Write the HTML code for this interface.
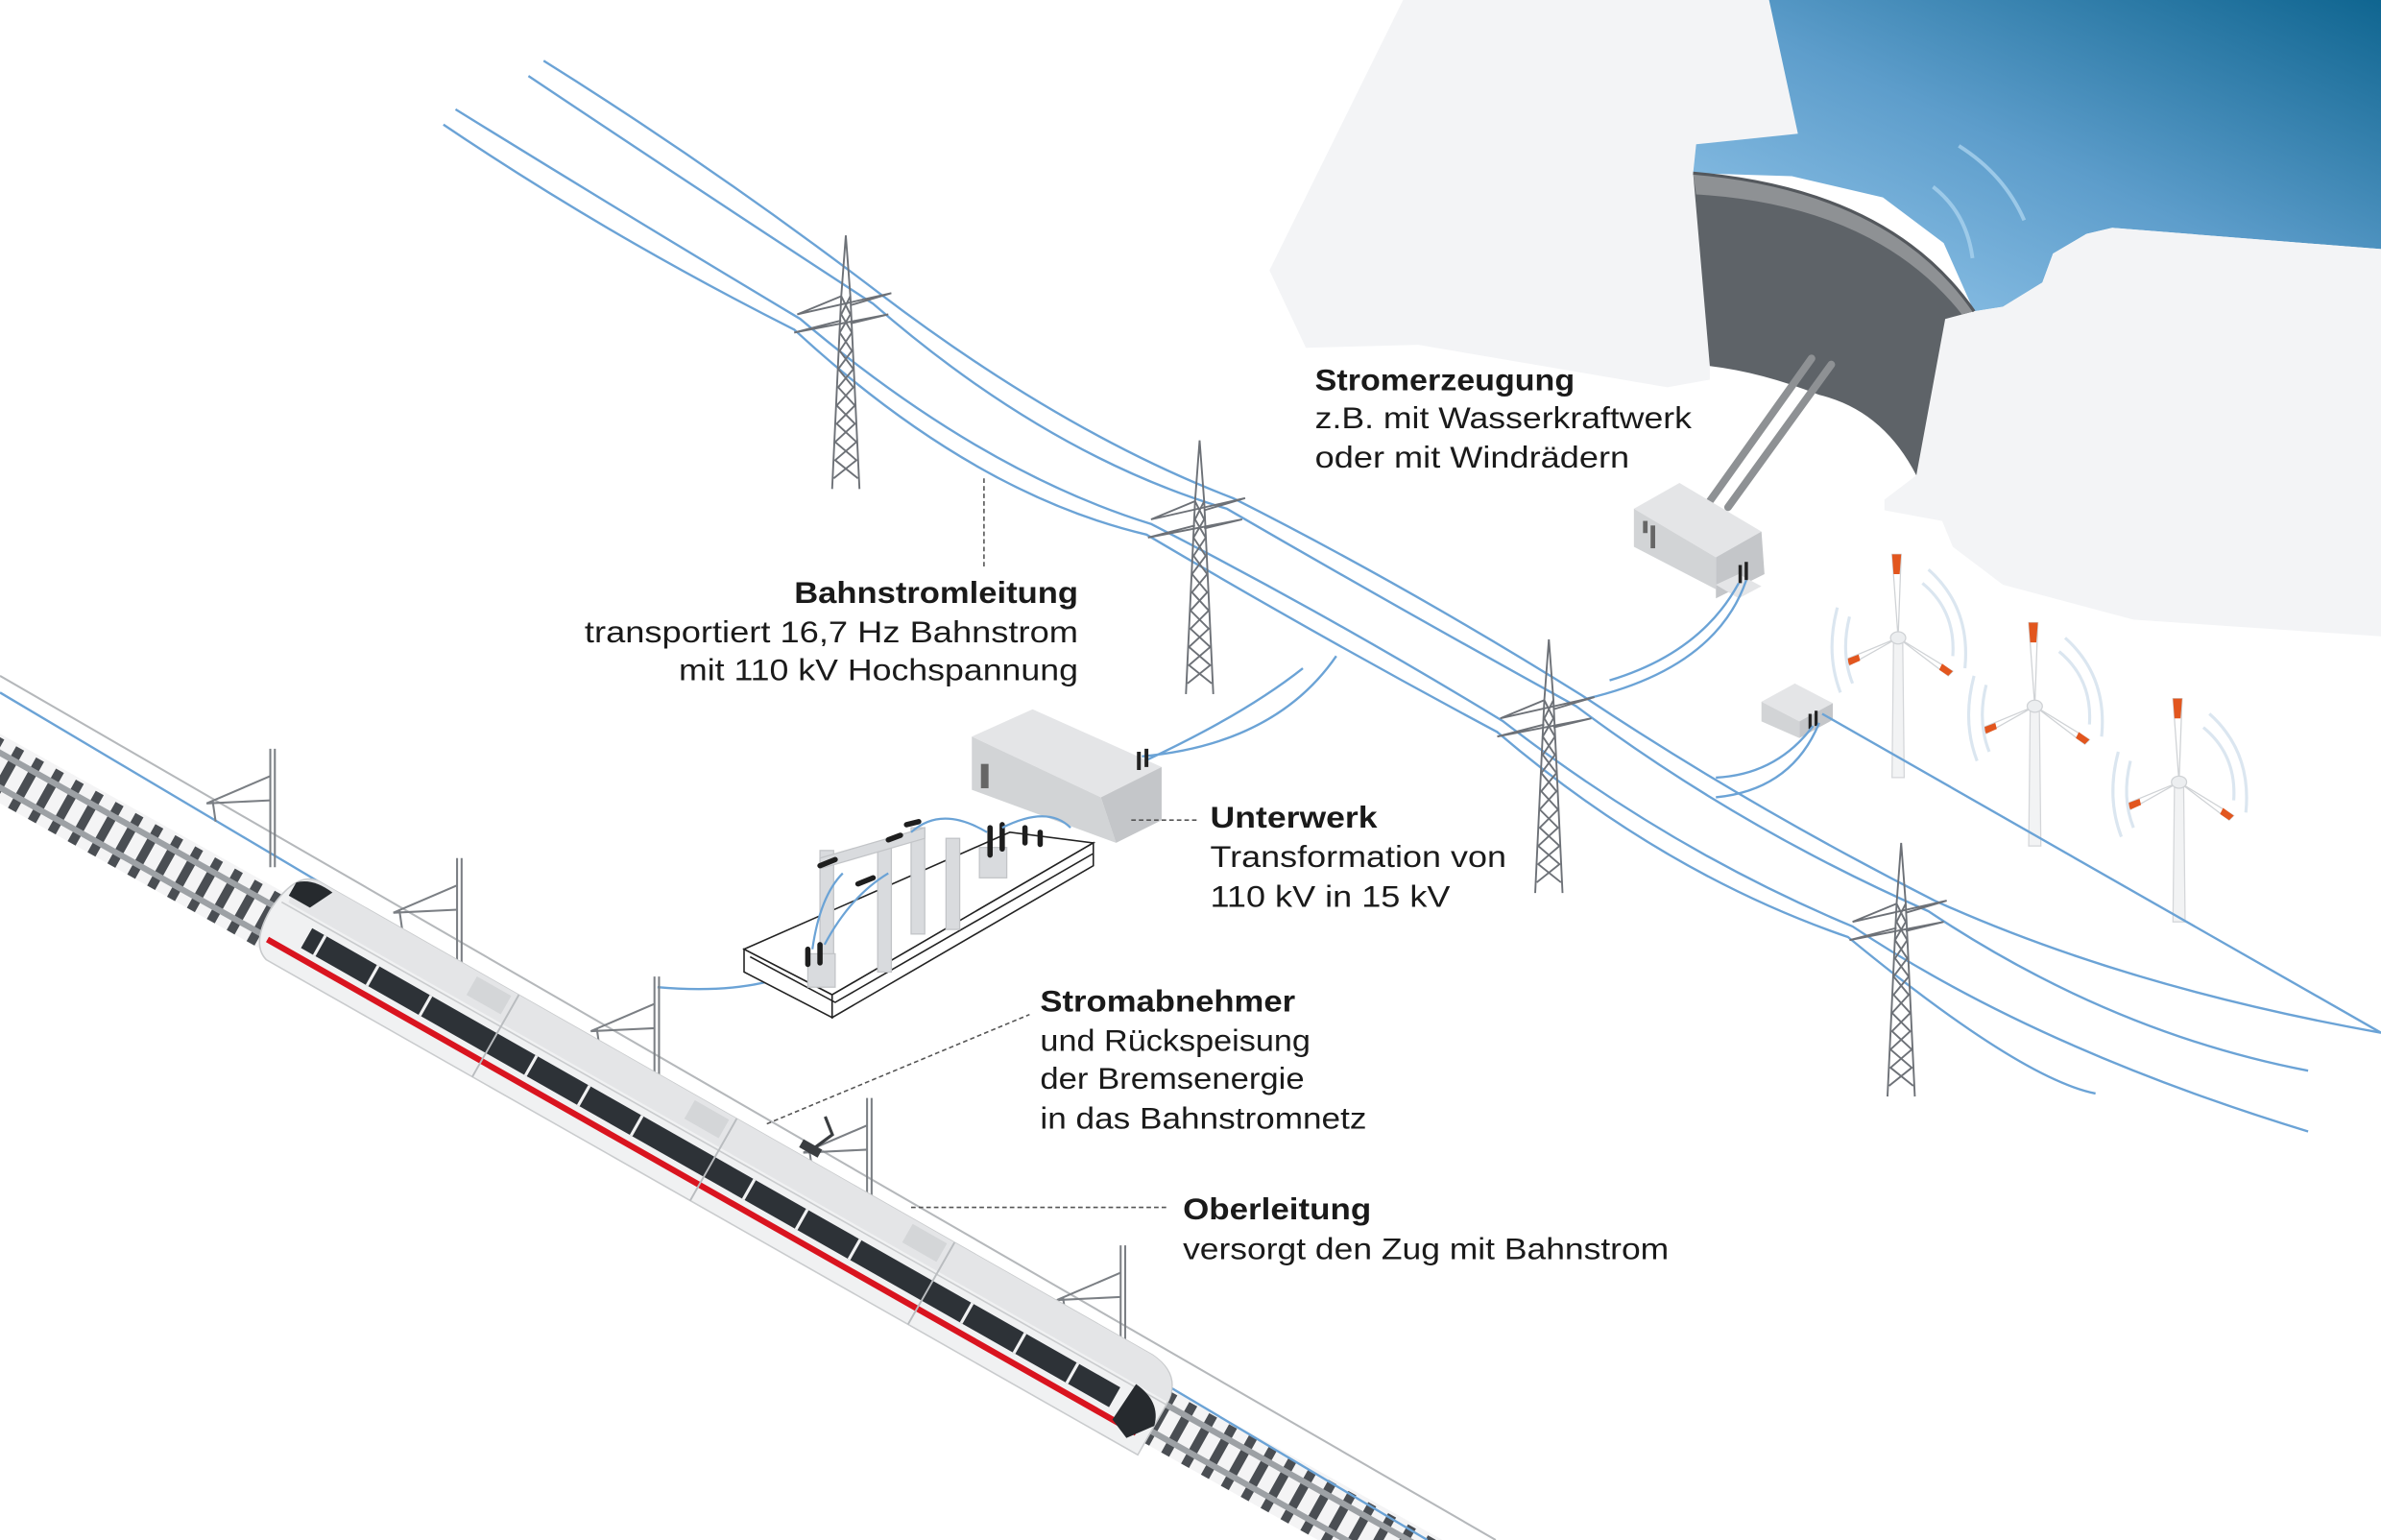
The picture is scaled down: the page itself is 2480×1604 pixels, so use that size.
<!DOCTYPE html>
<html><head><meta charset="utf-8"><style>
html,body{margin:0;padding:0;background:#fff;}
svg{display:block;}
text{font-family:"Liberation Sans",sans-serif;font-size:20px;fill:#1a1a1a;}
.b{font-weight:bold;}
</style></head><body>
<svg width="2480" height="1604" viewBox="0 0 1568 1014" preserveAspectRatio="none" xmlns="http://www.w3.org/2000/svg">
<defs>
<linearGradient id="wg" x1="0" y1="1" x2="1" y2="0">
<stop offset="0" stop-color="#9acbee"/><stop offset="0.5" stop-color="#5d9dcb"/><stop offset="1" stop-color="#0f6590"/>
</linearGradient>
<g id="pyl" fill="none" stroke="#6d7177" stroke-width="1.2">
<path d="M0,0 L-3,40 L-9,167 M0,0 L3,40 L9,167"/>
<path d="M-3,40 L3,52 L-4,64 L4,76 L-5,88 L5,100 L-6,112 L6,124 L-7,136 L7,148 L-8,160 M3,40 L-3,52 L4,64 L-4,76 L5,88 L-5,100 L6,112 L-6,124 L7,136 L-7,148 L8,160"/>
<path d="M-32,52 L30,38 M-32,52 L-3,40 M30,38 L3,46 M-34,64 L28,52 M-34,64 L-3,56 M28,52 L3,58"/>
</g>
<g id="mast" fill="none" stroke="#7b7f84" stroke-width="1.3">
<path d="M0,0 L0,78 M3,0 L3,78"/>
<path d="M0,18 L-42,36 M0,34 L-42,36 M-38,34 L-36,48"/>
</g>
<g id="turb">
<path d="M-3,0 L3,0 L4,92 L-4,92 Z" fill="#f2f3f4" stroke="#d4d6d9" stroke-width="0.8"/>
<path d="M0,0 L-4,-55 L2,-55 Z" fill="#fff" stroke="#cfd2d5" stroke-width="0.8"/>
<path d="M-4,-55 L2,-55 L1,-42 L-3,-42 Z" fill="#e2561e"/>
<path d="M0,0 L-34,14 L-32,18 Z" fill="#fff" stroke="#cfd2d5" stroke-width="0.8"/>
<path d="M-34,14 L-32,18 L-25,15 L-26,11 Z" fill="#e2561e"/>
<path d="M0,0 L36,22 L33,25 Z" fill="#fff" stroke="#cfd2d5" stroke-width="0.8"/>
<path d="M36,22 L33,25 L27,21 L29,17 Z" fill="#e2561e"/>
<ellipse cx="0" cy="0" rx="5" ry="4" fill="#eceef0" stroke="#cfd2d5" stroke-width="0.8"/>
<path d="M-40,-20 Q-48,10 -38,36 M-32,-14 Q-38,10 -30,30" fill="none" stroke="#dbe6f0" stroke-width="2"/>
<path d="M20,-45 Q48,-20 44,20 M16,-36 Q38,-18 36,12" fill="none" stroke="#dbe6f0" stroke-width="2"/>
</g>
</defs>

<polygon points="924,0 1165,0 1184,88 1117,95 1115,114 1126,241 1126,250 1098,255 934,227 860,229 836,178" fill="#f3f4f6"/>
<polygon points="1165,0 1568,0 1568,164 1391,150 1374,154 1352,167 1345,186 1319,202 1300,205 1280,160 1240,130 1180,116 1115,114 1117,95 1184,88" fill="url(#wg)"/>
<path d="M1290,96 Q1320,115 1333,145 M1273,123 Q1295,140 1299,170" fill="none" stroke="#a9d2ee" stroke-width="2.5" opacity="0.8"/>
<polygon points="1300,205 1319,202 1345,186 1352,167 1374,154 1391,150 1568,164 1568,419 1405,408 1319,385 1286,360 1279,343 1241,336 1241,329 1262,313 1281,210" fill="#f3f4f6"/>
<path d="M1115,114 Q1245,125 1300,205 L1281,210 L1262,313 Q1240,270 1198,260 Q1160,245 1126,241 Z" fill="#5e6368"/>
<path d="M1115,114 Q1245,125 1300,205 L1292,207 Q1235,135 1117,128 Z" fill="#8e9194"/>
<path d="M1115,114 Q1245,125 1300,205" fill="none" stroke="#54585d" stroke-width="2"/>
<path d="M1193,236 L1126,330 M1206,240 L1138,334" stroke="#8e9194" stroke-width="5" stroke-linecap="round"/>
<polygon points="1076,335 1106,318 1160,350 1130,367" fill="#e4e5e7"/>
<polygon points="1076,335 1130,367 1130,388 1076,360" fill="#d2d4d6"/>
<polygon points="1130,367 1160,350 1162,378 1130,394" fill="#c4c6c9"/>
<polygon points="1130,385 1145,378 1160,386 1145,394" fill="#e4e5e7"/>
<rect x="1082" y="343" width="3" height="8" fill="#666"/><rect x="1087" y="346" width="3" height="15" fill="#666"/>
<path d="M1146,372 v12 M1150,370 v12" stroke="#222" stroke-width="2.2"/>
<polygon points="1160,462 1182,450 1207,463 1185,475" fill="#e4e5e7"/>
<polygon points="1160,462 1185,475 1185,486 1160,475" fill="#d2d4d6"/>
<polygon points="1185,475 1207,463 1207,474 1185,486" fill="#c4c6c9"/>
<path d="M1192,470 v10 M1196,468 v10" stroke="#222" stroke-width="2"/>

<use href="#turb" x="1250" y="420"/>
<use href="#turb" x="1340" y="465"/>
<use href="#turb" x="1435" y="515"/>

<g fill="none" stroke="#6ba3d6" stroke-width="1.5">
<path d="M358,40 Q470,110 579,193 Q700,285 812,328 Q925,385 1042,458 Q1150,530 1274,593 Q1400,650 1568,680"/>
<path d="M348,50 Q460,125 575,200 Q690,300 808,335 Q920,400 1038,465 Q1145,545 1270,600 Q1390,680 1520,705"/>
<path d="M300,72 Q410,140 527,210 Q645,310 758,345 Q875,405 990,475 Q1100,560 1220,610 Q1340,690 1520,745"/>
<path d="M292,82 Q400,155 523,217 Q640,325 755,352 Q870,420 986,482 Q1095,575 1217,617 Q1330,710 1380,720"/>
<path d="M1145,384 Q1120,430 1060,448"/>
<path d="M1150,382 Q1130,440 1045,460"/>
<path d="M1194,478 Q1170,510 1130,512"/>
<path d="M1198,476 Q1180,520 1130,525"/>
<path d="M752,498 Q840,490 880,432"/>
<path d="M756,500 Q820,470 858,440"/>
<path d="M433,650 Q490,655 525,640"/>
<path d="M1200,470 L1568,680"/>
</g>
<use href="#pyl" x="557" y="155"/>
<use href="#pyl" x="790" y="290"/>
<use href="#pyl" x="1020" y="421"/>
<use href="#pyl" x="1252" y="555"/>

<g stroke="#222" stroke-width="1" fill="#fff">
<polygon points="490,625 665,548 720,555 548,655"/>
<polygon points="490,625 548,655 548,670 490,640" />
<polygon points="548,655 720,555 720,570 548,670"/>
<path d="M494,630 L550,660 L720,562" fill="none"/>
</g>
<polygon points="640,485 680,467 765,505 725,525" fill="#e4e5e7"/>
<polygon points="640,485 725,525 735,555 640,520" fill="#d2d4d6"/>
<polygon points="725,525 765,505 765,540 735,555" fill="#c4c6c9"/>
<rect x="646" y="503" width="5" height="16" fill="#666"/>
<path d="M750,495 v12 M755,493 v12" stroke="#222" stroke-width="2.5"/>
<g fill="#d9dbde" stroke="#c2c4c7" stroke-width="0.8">
<rect x="540" y="560" width="9" height="80"/><rect x="578" y="558" width="9" height="82"/>
<rect x="600" y="545" width="9" height="70"/><rect x="623" y="552" width="9" height="60"/>
<rect x="532" y="628" width="18" height="22"/><rect x="645" y="558" width="18" height="20"/>
<path d="M540,565 L609,545 L609,552 L540,572 Z"/>
</g>
<g stroke="#1e1e1e" stroke-width="3.5" stroke-linecap="round">
<path d="M540,570 l10,-4 M565,582 l10,-4 M597,543 l8,-2 M585,553 l8,-3 M532,625 v10 M540,622 v12 M652,545 v18 M660,543 v16 M675,545 v10 M685,548 v8"/>
</g>
<path d="M535,625 Q540,590 555,575 M543,622 Q560,590 585,575 M600,548 Q620,530 650,548 M660,545 Q690,530 705,545" fill="none" stroke="#6ba3d6" stroke-width="1.4"/>

<g transform="translate(0,490) rotate(29.2)">
<rect x="-20" y="-6" width="1120" height="40" fill="#f4f4f5"/>
<line x1="-20" y1="15" x2="1100" y2="15" stroke="#4a4e53" stroke-width="38" stroke-dasharray="6 9"/>
<line x1="-20" y1="5" x2="1100" y2="5" stroke="#9da1a5" stroke-width="4"/>
<line x1="-20" y1="25" x2="1100" y2="25" stroke="#9da1a5" stroke-width="4"/>
</g>
<line x1="0" y1="445" x2="985" y2="1014" stroke="#b5b8bb" stroke-width="1.3"/>
<line x1="0" y1="456" x2="940" y2="1014" stroke="#6ba3d6" stroke-width="1.5"/>
<use href="#mast" x="178" y="493"/>
<use href="#mast" x="301" y="565"/>
<use href="#mast" x="431" y="643"/>
<use href="#mast" x="571" y="723"/>
<use href="#mast" x="738" y="820"/>

<g transform="translate(182,592) rotate(29.6)">
<path d="M18,-24 L650,-24 Q674,-22 674,0 L674,38 L14,38 Q0,34 0,8 Q2,-22 18,-24 Z" fill="#f0f1f2" stroke="#c9cbcd" stroke-width="1"/>
<path d="M18,-24 L650,-24 Q672,-22 674,-2 L8,-2 Q4,-20 18,-24 Z" fill="#e4e5e7"/>
<line x1="4" y1="0" x2="674" y2="0" stroke="#c9cbcd" stroke-width="1"/>
<rect x="30" y="5" width="612" height="15" fill="#2d3237"/>
<path d="M40,5 V20 M80,5 V20 M120,5 V20 M200,5 V20 M240,5 V20 M280,5 V20 M365,5 V20 M405,5 V20 M445,5 V20 M530,5 V20 M570,5 V20 M610,5 V20" stroke="#f0f1f2" stroke-width="2"/>
<path d="M8,26 L666,26" stroke="#d9141f" stroke-width="4"/>
<g stroke="#b9bcbf" stroke-width="1.2"><path d="M170,-24 V38 M335,-24 V38 M500,-24 V38"/></g>
<g fill="#d4d6d8"><rect x="140" y="-21" width="26" height="14"/><rect x="305" y="-21" width="26" height="14"/><rect x="470" y="-21" width="26" height="14"/></g>
<path d="M6,-16 Q14,-24 30,-22 L22,-6 L6,-6 Z" fill="#262a2e"/>
<path d="M650,-2 Q670,0 674,16 L662,32 L648,26 Z" fill="#262a2e"/>
<rect x="380" y="-34" width="14" height="6" fill="#3a3d40"/>
<path d="M387,-28 L395,-46 L385,-54" fill="none" stroke="#3a3d40" stroke-width="2"/>
</g>

<g stroke="#555" stroke-width="1" stroke-dasharray="3 2" fill="none">
<path d="M648,315 V375"/>
<path d="M745,540 H790"/>
<path d="M505,740 L678,668"/>
<path d="M600,795 H768"/>
</g>

<text class="b" x="866" y="257" textLength="171" lengthAdjust="spacingAndGlyphs">Stromerzeugung</text>
<text x="866" y="282" textLength="248" lengthAdjust="spacingAndGlyphs">z.B. mit Wasserkraftwerk</text>
<text x="866" y="308" textLength="207" lengthAdjust="spacingAndGlyphs">oder mit Windrädern</text>
<text class="b" x="523" y="397" textLength="187" lengthAdjust="spacingAndGlyphs">Bahnstromleitung</text>
<text x="385" y="423" textLength="325" lengthAdjust="spacingAndGlyphs">transportiert 16,7 Hz Bahnstrom</text>
<text x="447" y="448" textLength="263" lengthAdjust="spacingAndGlyphs">mit 110 kV Hochspannung</text>
<text class="b" x="797" y="545" textLength="110" lengthAdjust="spacingAndGlyphs">Unterwerk</text>
<text x="797" y="571" textLength="195" lengthAdjust="spacingAndGlyphs">Transformation von</text>
<text x="797" y="597" textLength="158" lengthAdjust="spacingAndGlyphs">110 kV in 15 kV</text>
<text class="b" x="685" y="666" textLength="168" lengthAdjust="spacingAndGlyphs">Stromabnehmer</text>
<text x="685" y="692" textLength="178" lengthAdjust="spacingAndGlyphs">und Rückspeisung</text>
<text x="685" y="717" textLength="174" lengthAdjust="spacingAndGlyphs">der Bremsenergie</text>
<text x="685" y="743" textLength="215" lengthAdjust="spacingAndGlyphs">in das Bahnstromnetz</text>
<text class="b" x="779" y="803" textLength="124" lengthAdjust="spacingAndGlyphs">Oberleitung</text>
<text x="779" y="829" textLength="320" lengthAdjust="spacingAndGlyphs">versorgt den Zug mit Bahnstrom</text>
</svg>
</body></html>
